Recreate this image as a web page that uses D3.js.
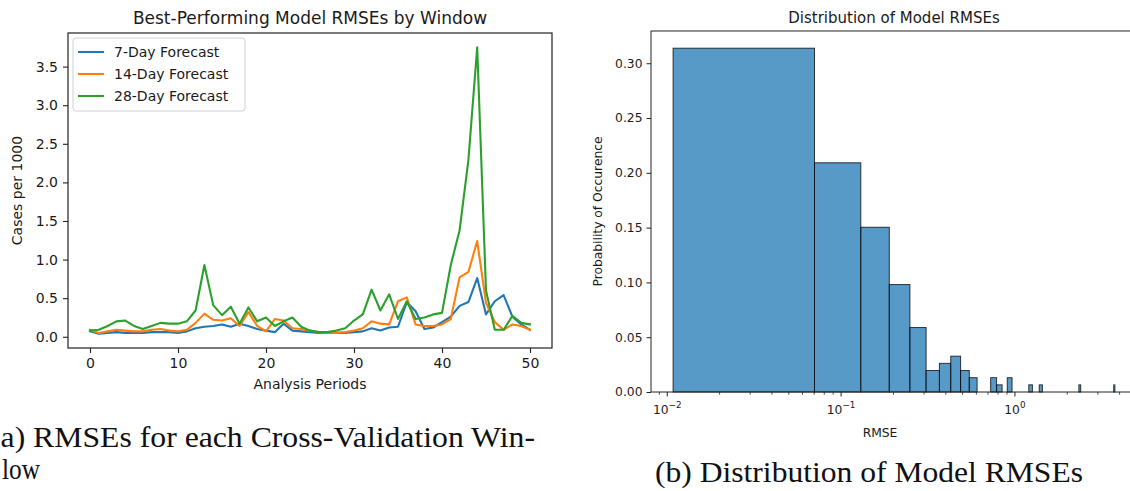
<!DOCTYPE html>
<html>
<head>
<meta charset="utf-8">
<script src="https://cdn.jsdelivr.net/npm/d3@7"></script>
<style>
  body { margin: 0; background: #fff; overflow: hidden; }
  svg { display: block; }
  .sans { font-family: "DejaVu Sans", sans-serif; fill: #1a1a1a; }
  .cap { font-family: "Liberation Serif", "DejaVu Serif", serif; fill: #111; }
</style>
</head>
<body>
<svg id="fig" width="1130" height="491"></svg>
<script>
// ---- Panel (a): best model RMSE per cross-validation window ----
const periods = d3.range(0, 51);
const rmse7 = [0.07,0.04,0.05,0.06,0.05,0.05,0.05,0.06,0.06,0.06,
               0.05,0.07,0.11,0.13,0.14,0.16,0.13,0.17,0.14,0.10,
               0.08,0.06,0.17,0.08,0.07,0.06,0.05,0.05,0.05,0.05,
               0.06,0.07,0.11,0.08,0.12,0.13,0.45,0.33,0.10,0.12,
               0.19,0.26,0.40,0.45,0.76,0.29,0.46,0.54,0.26,0.16,0.09];
const rmse14 = [0.09,0.05,0.07,0.09,0.08,0.07,0.07,0.09,0.10,0.08,
                0.07,0.09,0.18,0.30,0.22,0.21,0.24,0.14,0.32,0.14,
                0.07,0.23,0.21,0.11,0.10,0.08,0.06,0.05,0.05,0.06,
                0.08,0.11,0.20,0.17,0.16,0.46,0.51,0.16,0.14,0.14,
                0.16,0.23,0.77,0.84,1.24,0.44,0.19,0.09,0.16,0.14,0.09];
const rmse28 = [0.08,0.09,0.14,0.20,0.21,0.14,0.10,0.14,0.18,0.17,
                0.17,0.20,0.34,0.93,0.41,0.28,0.39,0.17,0.38,0.20,
                0.25,0.14,0.20,0.25,0.13,0.08,0.06,0.06,0.08,0.11,
                0.21,0.29,0.61,0.34,0.55,0.23,0.46,0.23,0.25,0.29,
                0.31,0.93,1.38,2.29,3.75,0.60,0.09,0.09,0.27,0.18,0.16];
const seriesNames = ["7-Day Forecast", "14-Day Forecast", "28-Day Forecast"];
const seriesColors = ["#1f77b4", "#ff7f0e", "#2ca02c"];
const periodTicks = [0, 10, 20, 30, 40, 50];
const casesTicks = [0, 0.5, 1.0, 1.5, 2.0, 2.5, 3.0, 3.5];

// ---- Panel (b): histogram of all model RMSEs (equal-width linear bins) ----
const histBinWidth = 0.0595;
const histBinLow = [0.0108, 0.0703, 0.1298, 0.1893, 0.2488, 0.3083, 0.3678, 0.4273,
                    0.4868, 0.5463, 0.7248, 0.7843, 0.9033, 1.2008, 1.3793, 2.3313, 3.7000];
const histCounts = [48, 32, 23, 15, 9, 3, 4, 5, 3, 2, 2, 1, 2, 1, 1, 1, 1];
const probTicks = [0, 0.05, 0.10, 0.15, 0.20, 0.25, 0.30];
const rmseMajorTicks = [0.01, 0.1, 1];
const rmseMajorExp = ["\u22122", "\u22121", "0"];

const svg = d3.select("#fig");

// =========================== Panel (a) ===========================
{
  const L = 68, R = 552, T = 33, B = 348;
  const g = svg.append("g");
  const allVals = rmse7.concat(rmse14, rmse28);
  const [ymin, ymax] = d3.extent(allVals);
  const ypad = (ymax - ymin) * 0.05;
  const x = d3.scaleLinear().domain([-2.5, 52.5]).range([L, R]);
  const y = d3.scaleLinear().domain([ymin - ypad, ymax + ypad]).range([B, T]);

  const xAxis = g.append("g").attr("transform", `translate(0,${B})`)
    .call(d3.axisBottom(x).tickValues(periodTicks).tickFormat(d3.format("d"))
      .tickSize(5).tickPadding(5));
  const yAxis = g.append("g").attr("transform", `translate(${L},0)`)
    .call(d3.axisLeft(y).tickValues(casesTicks).tickFormat(d3.format(".1f"))
      .tickSize(5).tickPadding(5));
  [xAxis, yAxis].forEach(a => {
    a.select(".domain").remove();
    a.selectAll("line").attr("stroke", "#222").attr("stroke-width", 1.1);
    a.selectAll("text").attr("class", "sans").attr("font-size", 14).attr("fill", "#1a1a1a");
  });

  const line = d3.line().x((d, i) => x(periods[i])).y(d => y(d));
  [rmse7, rmse14, rmse28].forEach((s, k) => {
    g.append("path").datum(s).attr("d", line)
      .attr("fill", "none").attr("stroke", seriesColors[k])
      .attr("stroke-width", 2.1).attr("stroke-linejoin", "round").attr("stroke-linecap", "square");
  });

  g.append("rect").attr("x", L).attr("y", T).attr("width", R - L).attr("height", B - T)
    .attr("fill", "none").attr("stroke", "#222").attr("stroke-width", 1.2);

  // legend
  const lg = g.append("g").attr("transform", "translate(73,38)");
  lg.append("rect").attr("width", 172).attr("height", 73).attr("rx", 3)
    .attr("fill", "#fff").attr("fill-opacity", 0.8).attr("stroke", "#d0d0d0");
  seriesNames.forEach((n, k) => {
    const yy = 14 + k * 22;
    lg.append("line").attr("x1", 5).attr("x2", 31).attr("y1", yy).attr("y2", yy)
      .attr("stroke", seriesColors[k]).attr("stroke-width", 2.1);
    lg.append("text").attr("class", "sans").attr("x", 41).attr("y", yy + 5)
      .attr("font-size", 14).text(n);
  });

  g.append("text").attr("class", "sans").attr("x", (L + R) / 2).attr("y", 24)
    .attr("text-anchor", "middle").attr("font-size", 17).text("Best-Performing Model RMSEs by Window");
  g.append("text").attr("class", "sans").attr("x", (L + R) / 2).attr("y", 389)
    .attr("text-anchor", "middle").attr("font-size", 14).text("Analysis Periods");
  g.append("text").attr("class", "sans")
    .attr("transform", `translate(22,${(T + B) / 2}) rotate(-90)`)
    .attr("text-anchor", "middle").attr("font-size", 14).text("Cases per 1000");
}

// =========================== Panel (b) ===========================
{
  const L = 651, R = 1137, T = 31, B = 392;
  const g = svg.append("g");
  const total = d3.sum(histCounts);
  const bins = histBinLow.map((lo, i) => ({ lo, hi: lo + histBinWidth, p: histCounts[i] / total }));
  const lmin = Math.log10(d3.min(bins, d => d.lo));
  const lmax = Math.log10(d3.max(bins, d => d.hi));
  const lpad = (lmax - lmin) * 0.05;
  const x = d3.scaleLog().domain([10 ** (lmin - lpad), 10 ** (lmax + lpad)]).range([L, R]);
  const pmax = d3.max(bins, d => d.p);
  const y = d3.scaleLinear().domain([0, pmax * 1.05]).range([B, T]);

  g.append("g").selectAll("rect").data(bins).join("rect")
    .attr("x", d => x(d.lo)).attr("width", d => x(d.hi) - x(d.lo))
    .attr("y", d => y(d.p)).attr("height", d => y(0) - y(d.p))
    .attr("fill", "#1f77b4").attr("fill-opacity", 0.75)
    .attr("stroke", "#000").attr("stroke-opacity", 0.75).attr("stroke-width", 1);

  // y axis
  const yAxis = g.append("g").attr("transform", `translate(${L},0)`)
    .call(d3.axisLeft(y).tickValues(probTicks).tickFormat(d3.format(".2f"))
      .tickSize(4.5).tickPadding(4));
  yAxis.select(".domain").remove();
  yAxis.selectAll("line").attr("stroke", "#222");
  yAxis.selectAll("text").attr("class", "sans").attr("font-size", 12.3).attr("fill", "#1a1a1a");

  // x axis (log): major and minor ticks
  const [d0, d1] = x.domain();
  const minor = [];
  for (let e = -3; e <= 1; e++) for (let m = 2; m <= 9; m++) {
    const v = m * 10 ** e;
    if (v >= d0 && v <= d1) minor.push(v);
  }
  const ax = g.append("g").attr("transform", `translate(0,${B})`);
  ax.selectAll("line.minor").data(minor).join("line").attr("class", "minor")
    .attr("x1", d => x(d)).attr("x2", d => x(d)).attr("y1", 0).attr("y2", 2.7)
    .attr("stroke", "#222").attr("stroke-width", 0.8);
  ax.selectAll("line.major").data(rmseMajorTicks).join("line").attr("class", "major")
    .attr("x1", d => x(d)).attr("x2", d => x(d)).attr("y1", 0).attr("y2", 4.5)
    .attr("stroke", "#222").attr("stroke-width", 1);
  const lbl = ax.selectAll("text").data(rmseMajorTicks).join("text")
    .attr("class", "sans").attr("x", d => x(d)).attr("y", 22)
    .attr("text-anchor", "middle").attr("font-size", 12.3);
  lbl.append("tspan").text("10");
  lbl.append("tspan").attr("dy", -6).attr("font-size", 8.8).text((d, i) => rmseMajorExp[i]);

  g.append("rect").attr("x", L).attr("y", T).attr("width", R - L).attr("height", B - T)
    .attr("fill", "none").attr("stroke", "#222").attr("stroke-width", 1);

  g.append("text").attr("class", "sans").attr("x", (L + R) / 2).attr("y", 23)
    .attr("text-anchor", "middle").attr("font-size", 15).text("Distribution of Model RMSEs");
  g.append("text").attr("class", "sans").attr("x", 880).attr("y", 437)
    .attr("text-anchor", "middle").attr("font-size", 12.3).text("RMSE");
  g.append("text").attr("class", "sans")
    .attr("transform", `translate(602,${(T + B) / 2}) rotate(-90)`)
    .attr("text-anchor", "middle").attr("font-size", 12.3).text("Probability of Occurence");
}

// =========================== Sub-captions ===========================
// Panel (a) caption wraps onto two lines; its opening parenthesis sits just past the left edge.
svg.append("text").attr("class", "cap").attr("x", -10).attr("y", 447)
  .attr("font-size", 30).attr("textLength", 545).attr("lengthAdjust", "spacingAndGlyphs")
  .text("(a) RMSEs for each Cross-Validation Win-");
svg.append("text").attr("class", "cap").attr("x", 2).attr("y", 479)
  .attr("font-size", 30).attr("textLength", 38).attr("lengthAdjust", "spacingAndGlyphs")
  .text("low");
svg.append("text").attr("class", "cap").attr("x", 655).attr("y", 482)
  .attr("font-size", 30).attr("textLength", 428).attr("lengthAdjust", "spacingAndGlyphs")
  .text("(b) Distribution of Model RMSEs");
</script>
</body>
</html>
